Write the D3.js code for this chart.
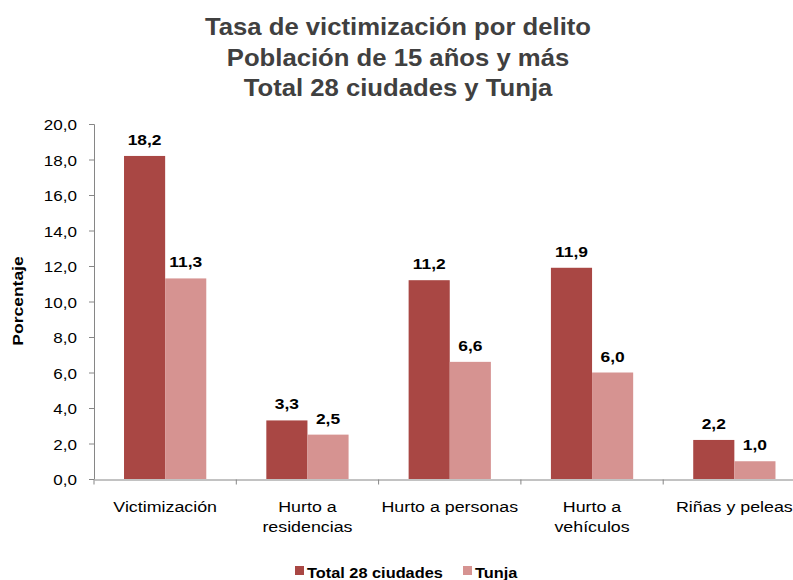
<!DOCTYPE html>
<html lang="es">
<head>
<meta charset="utf-8">
<title>Tasa de victimización por delito</title>
<script src="https://cdn.jsdelivr.net/npm/d3@7"></script>
<style>
  body { margin: 0; background: #fff; }
  text { font-family: "Liberation Sans", Arial, sans-serif; }
</style>
</head>
<body>
<script>
// data
const categories = [["Victimización"], ["Hurto a", "residencias"], ["Hurto a personas"], ["Hurto a", "vehículos"], ["Riñas y peleas"]];
const seriesNames = ["Total 28 ciudades", "Tunja"];
const total28 = [18.2, 3.3, 11.2, 11.9, 2.2];
const tunja = [11.3, 2.5, 6.6, 6.0, 1.0];
const yTicks = [0, 2, 4, 6, 8, 10, 12, 14, 16, 18, 20];
const titleLines = ["Tasa de victimización por delito", "Población de 15 años y más", "Total 28 ciudades y Tunja"];

const colors = ["#A94744", "#D69391"];
const w = 793, h = 580;
const fmt = v => v.toFixed(1).replace(".", ",");

// the original text is a bit wider than Liberation Sans, stretch it sideways
function stretch(sel, sx, rot) {
  sel.each(function() {
    const t = d3.select(this);
    const px = +t.attr("x") || 0, py = +t.attr("y") || 0;
    t.attr("x", 0).attr("y", 0)
      .attr("transform", "translate(" + px + "," + py + ")" + (rot ? " rotate(" + rot + ")" : "") + " scale(" + sx + ",1)");
    t.selectAll("tspan").attr("x", 0);
  });
}

const svg = d3.select("body").append("svg")
  .attr("width", w).attr("height", h);

// title
svg.append("g").selectAll("text")
  .data(titleLines).enter().append("text")
  .attr("x", 398).attr("y", (d, i) => 35 + i * 30.5)
  .attr("text-anchor", "middle")
  .attr("font-size", 24).attr("font-weight", "bold")
  .attr("fill", "#404040")
  .text(d => d)
  .call(stretch, 1.07);

const x = d3.scaleBand()
  .domain(d3.range(categories.length))
  .range([94, 805.5])
  .paddingInner(0).paddingOuter(0);
const xSub = d3.scaleBand()
  .domain([0, 1])
  .range([0, x.bandwidth()])
  .paddingInner(0).paddingOuter(0.73);
const y = d3.scaleLinear().domain([0, 20]).range([479, 124]);

// y axis
const yAxis = svg.append("g")
  .attr("transform", "translate(94,0)")
  .call(d3.axisLeft(y).tickValues(yTicks).tickFormat(fmt).tickSize(5).tickPadding(12));
yAxis.select(".domain").attr("stroke", "#868686").attr("d", "M-5,124.5H0.5V479.5");
yAxis.selectAll(".tick line").attr("stroke", "#868686");
yAxis.selectAll(".tick text").attr("font-size", 15.5).attr("fill", "#000")
  .attr("font-family", "Liberation Sans, Arial, sans-serif")
  .attr("dy", null).attr("dominant-baseline", null)
  .attr("y", 5.5)
  .call(stretch, 1.1);

// x axis
const xAxis = svg.append("g")
  .attr("transform", "translate(0,479.5)")
  .call(d3.axisBottom(x).tickSize(0).tickFormat(""));
xAxis.select(".domain").attr("stroke", "#868686");
xAxis.selectAll(".xt")
  .data(d3.range(categories.length + 1)).enter().append("line")
  .attr("class", "xt")
  .attr("x1", i => 94 + i * x.bandwidth()).attr("x2", i => 94 + i * x.bandwidth())
  .attr("y1", 0).attr("y2", 5)
  .attr("stroke", "#868686");

// category labels
const catG = svg.append("g").selectAll("text")
  .data(categories).enter().append("text")
  .attr("x", (d, i) => x(i) + x.bandwidth() / 2)
  .attr("y", 512)
  .attr("text-anchor", "middle")
  .attr("font-size", 15.5).attr("fill", "#000");
catG.selectAll("tspan").data(d => d).enter().append("tspan")
  .attr("dy", (d, i) => i === 0 ? 0 : 20)
  .text(d => d);
catG.call(stretch, 1.15);

// bars
const series = [total28, tunja];
series.forEach((vals, s) => {
  const g = svg.append("g");
  g.selectAll("rect").data(vals).enter().append("rect")
    .attr("x", (d, i) => x(i) + xSub(s))
    .attr("y", d => y(d))
    .attr("width", xSub.bandwidth())
    .attr("height", d => y(0) - y(d))
    .attr("fill", colors[s]);
  g.selectAll("text").data(vals).enter().append("text")
    .attr("x", (d, i) => x(i) + xSub(s) + xSub.bandwidth() / 2)
    .attr("y", d => y(d) - 11)
    .attr("text-anchor", "middle")
    .attr("font-size", 14.5).attr("font-weight", "bold").attr("fill", "#000")
    .text(fmt)
    .call(stretch, 1.2);
});

// y axis title
svg.append("text")
  .attr("x", 23).attr("y", 301)
  .attr("text-anchor", "middle")
  .attr("font-size", 14).attr("font-weight", "bold")
  .text("Porcentaje")
  .call(stretch, 1.25, -90);

// legend
const legX = [295, 463];
const leg = svg.append("g").selectAll("g")
  .data(seriesNames).enter().append("g")
  .attr("transform", (d, i) => "translate(" + legX[i] + ",566)");
leg.append("rect").attr("width", 9).attr("height", 9)
  .attr("fill", (d, i) => colors[i]);
leg.append("text").attr("x", 12).attr("y", 12)
  .attr("font-size", 15).attr("font-weight", "bold")
  .text(d => d)
  .call(stretch, 1.09);
</script>
</body>
</html>
